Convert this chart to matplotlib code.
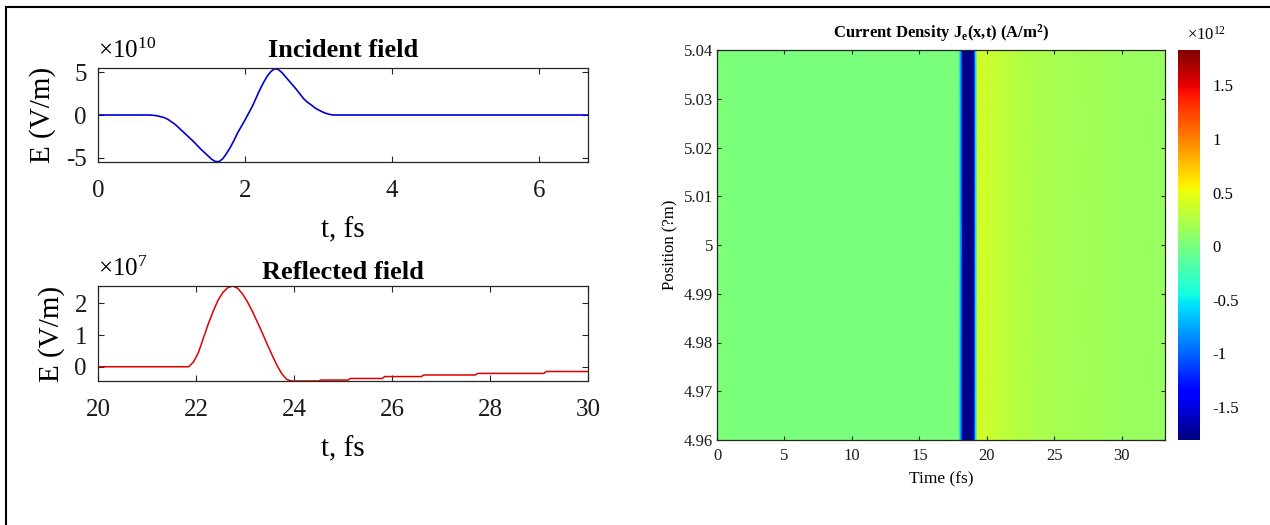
import numpy as np
import matplotlib
matplotlib.use("Agg")
import matplotlib.pyplot as plt
from matplotlib.lines import Line2D

plt.rcParams['font.family'] = ['Liberation Serif', 'DejaVu Serif']
plt.rcParams['mathtext.fontset'] = 'custom'
plt.rcParams['mathtext.rm'] = 'Liberation Serif'
plt.rcParams['mathtext.it'] = 'Liberation Serif:italic'
plt.rcParams['mathtext.bf'] = 'Liberation Serif:bold'

# ---------------- data ----------------
# Incident field (x1e10 V/m) vs t (fs)
inc_t = [0.0, 0.71, 0.8, 0.9, 0.95, 1.0, 1.05, 1.1, 1.15, 1.2, 1.25, 1.3, 1.35, 1.4,
         1.45, 1.5, 1.55, 1.6, 1.65, 1.7, 1.75, 1.8, 1.85, 1.9, 1.95, 2.0, 2.05, 2.1,
         2.15, 2.2, 2.25, 2.3, 2.35, 2.4, 2.45, 2.5, 2.55, 2.6, 2.65, 2.7, 2.75, 2.8,
         2.85, 2.9, 2.95, 3.0, 3.05, 3.1, 3.15, 3.2, 6.67]
inc_E = [0.0, 0.0, -0.08, -0.3, -0.5, -0.8, -1.1, -1.5, -1.9, -2.3, -2.7, -3.1, -3.55, -4.0,
         -4.4, -4.8, -5.2, -5.45, -5.45, -5.1, -4.5, -3.8, -3.0, -2.1, -1.35, -0.6, 0.2, 1.0,
         1.95, 2.9, 3.75, 4.5, 5.05, 5.4, 5.35, 5.0, 4.5, 4.0, 3.5, 3.0, 2.45, 1.9,
         1.5, 1.2, 0.85, 0.6, 0.38, 0.2, 0.08, 0.0, 0.0]

# Reflected field (x1e7 V/m) vs t (fs)
ref_t = [20.0, 21.85, 21.95, 22.05, 22.15, 22.25, 22.35, 22.45, 22.55, 22.65, 22.75,
         22.85, 22.95, 23.05, 23.15, 23.25, 23.35, 23.45, 23.55, 23.65, 23.75, 23.85,
         23.95, 24.5, 24.55, 25.1, 25.15, 25.8, 25.85, 26.6, 26.65, 27.7, 27.75, 29.1,
         29.15, 30.0]
ref_E = [0.0, 0.0, 0.15, 0.45, 0.9, 1.35, 1.75, 2.1, 2.35, 2.5, 2.55,
         2.48, 2.3, 2.05, 1.75, 1.42, 1.08, 0.72, 0.38, 0.05, -0.22, -0.4,
         -0.45, -0.45, -0.42, -0.42, -0.37, -0.37, -0.31, -0.31, -0.26, -0.26, -0.21, -0.21,
         -0.15, -0.15]

# Current density (x1e12 A/m^2) vs time (fs), uniform in position
jt_time = [0.0, 0.4, 1.0, 17.9, 18.05, 18.2, 18.4, 18.9, 19.05, 19.15, 19.3, 20.0,
           21.0, 22.0, 24.0, 26.0, 28.0, 30.0, 33.2]
jt_val = [0.0, 0.03, 0.0, 0.0, -0.7, -1.6, -1.8, -1.8, -1.5, -0.6, 0.4, 0.36,
          0.31, 0.27, 0.22, 0.19, 0.17, 0.15, 0.13]
position = [4.96, 5.04]

# ---------------- figure ----------------
fig = plt.figure(figsize=(12.7, 5.25), dpi=100)
W, H = 1270, 525

def ax_rect(x0, y0, x1, y1):
    return [x0 / W, 1 - y1 / H, (x1 - x0) / W, (y1 - y0) / H]

spine_c = '0.15'

def style(ax, fs):
    for s in ax.spines.values():
        s.set_color(spine_c)
        s.set_linewidth(0.9)
    ax.tick_params(direction='in', top=True, right=True, labelsize=fs,
                   length=4, width=0.8, colors=spine_c, labelcolor='0.1')

# Incident field
ax1 = fig.add_axes(ax_rect(98, 68, 588, 162))
ax1.plot(inc_t, inc_E, color='#0000cc', lw=1.2)
ax1.set_xlim(0, 6.67)
ax1.set_ylim(-5.5, 5.5)
ax1.set_xticks([0, 2, 4, 6])
ax1.set_yticks([-5, 0, 5])
ax1.set_yticklabels(['-5', '0', '5'])
style(ax1, 18)
ax1.tick_params(axis='x', pad=13)
ax1.tick_params(axis='y', pad=8)
ax1.set_title('Incident field', fontsize=19, fontweight='bold', pad=8)
ax1.set_xlabel('t, fs', fontsize=21, labelpad=11)
ax1.set_ylabel('E (V/m)', fontsize=21, labelpad=7)
ax1.text(0.0, 1.05, r'$\times$10$^{10}$', transform=ax1.transAxes, fontsize=18,
         ha='left', va='bottom')

# Reflected field
ax2 = fig.add_axes(ax_rect(98, 286, 588, 381))
ax2.plot(ref_t, ref_E, color='#dd0000', lw=1.1)
ax2.set_xlim(20, 30)
ax2.set_ylim(-0.45, 2.55)
ax2.set_xticks([20, 22, 24, 26, 28, 30])
ax2.set_yticks([0, 1, 2])
style(ax2, 18)
ax2.tick_params(axis='x', pad=13)
ax2.tick_params(axis='y', pad=8)
ax2.set_title('Reflected field', fontsize=19, fontweight='bold', pad=5)
ax2.set_xlabel('t, fs', fontsize=21, labelpad=11)
ax2.set_ylabel('E (V/m)', fontsize=21, labelpad=7)
ax2.text(0.0, 1.05, r'$\times$10$^{7}$', transform=ax2.transAxes, fontsize=18,
         ha='left', va='bottom')

# Current density map
ax3 = fig.add_axes(ax_rect(717, 50, 1165, 440))
T, P = np.meshgrid(np.asarray(jt_time), np.asarray(position))
Z = np.vstack([jt_val, jt_val])
vmin, vmax = -1.81, 1.83
mesh = ax3.pcolormesh(T, P, Z, cmap='jet', vmin=vmin, vmax=vmax, shading='gouraud')
ax3.set_xlim(0, 33.2)
ax3.set_ylim(4.96, 5.04)
ax3.set_xticks([0, 5, 10, 15, 20, 25, 30])
ax3.set_yticks([4.96, 4.97, 4.98, 4.99, 5.0, 5.01, 5.02, 5.03, 5.04])
ax3.set_yticklabels(['4.96', '4.97', '4.98', '4.99', '5', '5.01', '5.02', '5.03', '5.04'])
style(ax3, 12)
ax3.tick_params(length=3, pad=3)
ax3.tick_params(axis='x', pad=6)
ax3.set_title(r'Current Density J$_{\mathbf{e}}$(x,t) (A/m$^{\mathbf{2}}$)',
              fontsize=12, fontweight='bold', pad=9)
ax3.set_xlabel('Time (fs)', fontsize=12.5, labelpad=5)
ax3.set_ylabel('Position (?m)', fontsize=12, labelpad=4)

cax = fig.add_axes(ax_rect(1178, 50, 1200, 440))
cb = fig.colorbar(mesh, cax=cax)
cb.set_ticks([-1.5, -1, -0.5, 0, 0.5, 1, 1.5])
cb.set_ticklabels(['-1.5', '-1', '-0.5', '0', '0.5', '1', '1.5'])
cb.ax.tick_params(labelsize=12, length=0, pad=9)
cb.outline.set_visible(False)
cax.text(0.4, 1.015, r'$\times$10$^{12}$', transform=cax.transAxes, fontsize=12,
         ha='left', va='bottom')

# figure frame (top and left edges)
fig.add_artist(Line2D([6 / W, 1.0], [1 - 7 / H, 1 - 7 / H], color='black', lw=1.5,
                      transform=fig.transFigure))
fig.add_artist(Line2D([6 / W, 6 / W], [0.0, 1 - 7 / H], color='black', lw=1.5,
                      transform=fig.transFigure))

fig.savefig('out.png', dpi=100, facecolor='white')
